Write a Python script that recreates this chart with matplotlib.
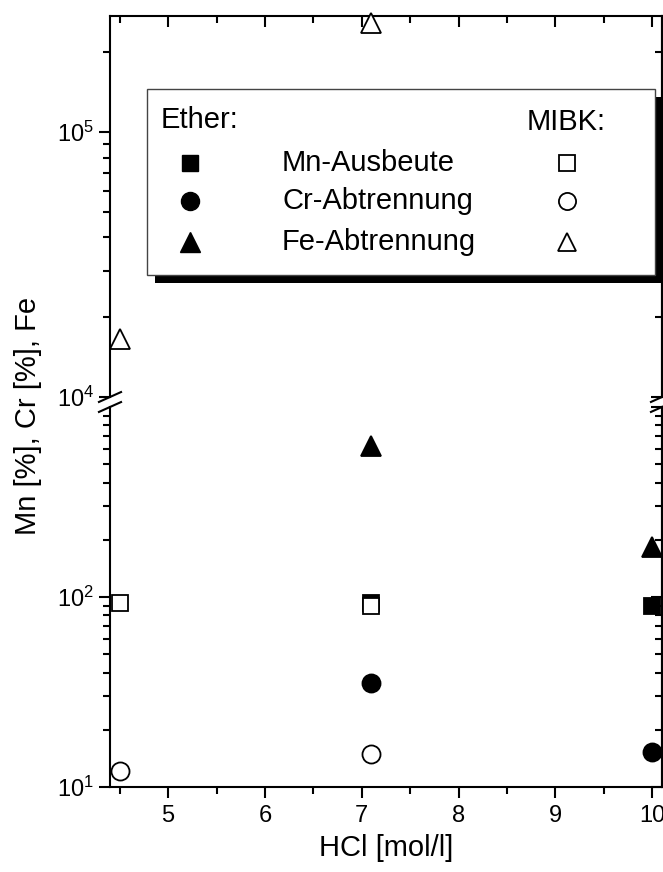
"""HCl-Abhaengigkeit der Mn-Ausbeute und Cr/Fe-Abtrennung (Ether vs. MIBK)."""

import matplotlib

matplotlib.use("Agg")
import matplotlib.pyplot as plt
from matplotlib.lines import Line2D
from matplotlib.patches import Rectangle
from matplotlib.ticker import FixedLocator, LogLocator, NullFormatter, FixedFormatter

plt.rcParams["font.family"] = ["Liberation Sans", "DejaVu Sans"]
plt.rcParams["mathtext.fontset"] = "custom"
plt.rcParams["mathtext.rm"] = "Liberation Sans"
plt.rcParams["mathtext.default"] = "regular"

W, H = 663, 872

# data
hcl_ether = [7.1, 10.0]
mn_ether = [93.5, 90.0]
cr_ether = [35.4, 15.3]
fe_ether = [622.0, 184.0]

hcl_mibk = [4.5, 7.1]
mn_mibk = [93.5, 90.0]
cr_mibk = [12.1, 14.9]
fe_mibk = [1.66e4, 2.58e5]

x_ticks = [5, 6, 7, 8, 9, 10]
x_minor = [4.5, 5.5, 6.5, 7.5, 8.5, 9.5]
lower_lim = (10, 1000)
upper_lim = (1e4, 2.74e5)

series = [
    ("s", 12, hcl_ether, mn_ether, "black"),
    ("o", 13, hcl_ether, cr_ether, "black"),
    ("^", 14, hcl_ether, fe_ether, "black"),
    ("s", 12, hcl_mibk, mn_mibk, "white"),
    ("o", 13, hcl_mibk, cr_mibk, "white"),
    ("^", 14, hcl_mibk, fe_mibk, "white"),
]


def fx(x):
    return x / W


def fy(y):
    return 1 - y / H


fig = plt.figure(figsize=(W / 100, H / 100), dpi=100)
left, right = 110, 662
ax_u = fig.add_axes([fx(left), fy(397), (right - left) / W, (397 - 16) / H])
ax_l = fig.add_axes([fx(left), fy(787), (right - left) / W, (787 - 407) / H])

for ax, lim in ((ax_u, upper_lim), (ax_l, lower_lim)):
    ax.set_yscale("log")
    ax.set_ylim(*lim)
    ax.set_xlim(4.4, 10.1)
    for sp in ax.spines.values():
        sp.set_linewidth(1.5)
    for marker, ms, xs, ys, face in series:
        pts = [(x, y) for x, y in zip(xs, ys) if lim[0] <= y <= lim[1]]
        if not pts:
            continue
        ax.plot([p[0] for p in pts], [p[1] for p in pts], ls="none", marker=marker,
                ms=ms, mfc=face, mec="black", mew=1.3, clip_on=False, zorder=5)
    ax.xaxis.set_major_locator(FixedLocator(x_ticks))
    ax.xaxis.set_minor_locator(FixedLocator(x_minor))
    ax.yaxis.set_minor_locator(LogLocator(base=10, subs=range(2, 10)))
    ax.yaxis.set_minor_formatter(NullFormatter())
    ax.tick_params(which="both", width=1.5, labelsize=17)
    ax.tick_params(which="major", length=8)
    ax.tick_params(which="minor", length=5)
    ax.tick_params(axis="y", which="both", direction="out", left=True, right=False)

# right-hand ticks point inward
for ax in (ax_u, ax_l):
    sec = ax.secondary_yaxis("right")
    sec.yaxis.set_minor_locator(LogLocator(base=10, subs=range(2, 10)))
    sec.yaxis.set_minor_formatter(NullFormatter())
    sec.tick_params(which="both", direction="in", width=1.5, labelright=False)
    sec.tick_params(which="major", length=8)
    sec.tick_params(which="minor", length=5)
    sec.spines["right"].set_linewidth(1.5)

ax_u.yaxis.set_major_locator(FixedLocator([1e4, 1e5]))
ax_u.yaxis.set_major_formatter(FixedFormatter(["$10^4$", "$10^5$"]))
ax_l.yaxis.set_major_locator(FixedLocator([1e1, 1e2]))
ax_l.yaxis.set_major_formatter(FixedFormatter(["$10^1$", "$10^2$"]))

ax_u.spines["bottom"].set_visible(False)
ax_u.tick_params(axis="x", which="both", bottom=False, labelbottom=False,
                 top=True, direction="in")
ax_l.spines["top"].set_visible(False)
ax_l.tick_params(axis="x", which="both", top=False, direction="out", pad=5)

# axis break marks
for ax, yb in ((ax_u, 0.0), (ax_l, 1.0)):
    for xb in (0.0, 1.0):
        ax.plot([xb - 0.02, xb + 0.02], [yb - 0.013, yb + 0.013],
                transform=ax.transAxes, color="black", lw=1.5, clip_on=False)

fig.text(fx(28), fy(416), "Mn [%], Cr [%], Fe", rotation=90,
         ha="center", va="center", fontsize=21)
fig.text(fx(386), fy(848), "HCl [mol/l]", ha="center", va="center", fontsize=21)

# legend with shadow
fig.add_artist(Rectangle((fx(155), fy(283)), (662 - 155) / W, (283 - 97) / H,
                         transform=fig.transFigure, facecolor="black",
                         edgecolor="none", zorder=8))
fig.add_artist(Rectangle((fx(147), fy(275)), (655 - 147) / W, (275 - 89) / H,
                         transform=fig.transFigure, facecolor="white",
                         edgecolor="#444444", lw=1.0, zorder=9))
fig.text(fx(161), fy(120), "Ether:", ha="left", va="center", fontsize=21, zorder=10)
fig.text(fx(566), fy(122), "MIBK:", ha="center", va="center", fontsize=21, zorder=10)
legend_rows = [("s", 12, "Mn-Ausbeute", 163), ("o", 13, "Cr-Abtrennung", 201),
               ("^", 14, "Fe-Abtrennung", 242)]
for marker, ms, label, yrow in legend_rows:
    fig.add_artist(Line2D([fx(190)], [fy(yrow)], transform=fig.transFigure,
                          marker=marker, ms=ms, mfc="black", mec="black", ls="none",
                          zorder=10))
    fig.add_artist(Line2D([fx(567)], [fy(yrow)], transform=fig.transFigure,
                          marker=marker, ms=ms * 0.95, mfc="white", mec="black",
                          mew=1.3, ls="none", zorder=10))
    fig.text(fx(282), fy(yrow), label, ha="left", va="center", fontsize=21, zorder=10)

fig.savefig("out.png", dpi=100)
